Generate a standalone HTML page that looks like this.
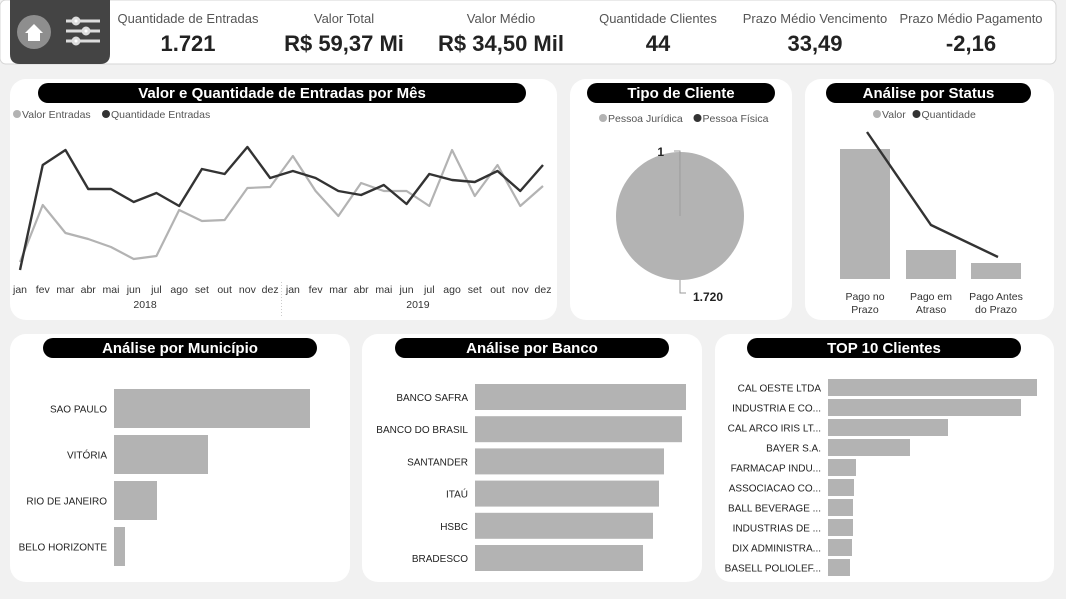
<!DOCTYPE html>
<html><head><meta charset="utf-8">
<style>
html,body{margin:0;padding:0;background:#f1f1f1;}
svg{display:block;font-family:"Liberation Sans","DejaVu Sans",sans-serif;}
</style></head>
<body>
<svg id="s" width="1066" height="599" viewBox="0 0 1066 599" xmlns="http://www.w3.org/2000/svg">
<rect width="1066" height="599" fill="#f1f1f1"/>
<g>
<rect x="0" y="0" width="1056" height="64" rx="6" fill="#fff" stroke="#d6d6d6"/>
<path d="M10 0 H110 V54 Q110 64 100 64 H20 Q10 64 10 54 Z" fill="#444"/>
<g><circle cx="34" cy="32" r="17" fill="#8e8e8e"/><path d="M25 33 L34 24 L43 33 H40 V41 H28 V33 Z" fill="#fff"/></g>
<g stroke="#ddd" stroke-width="3"><line x1="66" y1="21" x2="100" y2="21"/><line x1="66" y1="31" x2="100" y2="31"/><line x1="66" y1="41" x2="100" y2="41"/><circle cx="76" cy="21" r="3" fill="#fff"/><circle cx="86" cy="31" r="3" fill="#fff"/><circle cx="76" cy="41" r="3" fill="#fff"/></g>
<g font-size="13" fill="#555" text-anchor="middle">
<text x="188" y="23">Quantidade de Entradas</text>
<text x="344" y="23">Valor Total</text>
<text x="501" y="23">Valor Médio</text>
<text x="658" y="23">Quantidade Clientes</text>
<text x="815" y="23">Prazo Médio Vencimento</text>
<text x="971" y="23">Prazo Médio Pagamento</text>
</g>
<g font-size="22" font-weight="bold" fill="#222" text-anchor="middle">
<text x="188" y="51">1.721</text>
<text x="344" y="51">R$ 59,37 Mi</text>
<text x="501" y="51">R$ 34,50 Mil</text>
<text x="658" y="51">44</text>
<text x="815" y="51">33,49</text>
<text x="971" y="51">-2,16</text>
</g>
</g>
<g id="panels"></g>
<g id="charts"></g>
</svg>
<script>
// ---- data ----
const months = ["jan","fev","mar","abr","mai","jun","jul","ago","set","out","nov","dez","jan","fev","mar","abr","mai","jun","jul","ago","set","out","nov","dez"];
const years = ["2018","2019"];
const qtdEntradas = [30,135,150,111,111,98,107,94,131,126,153,122,129,122,109,105,115,96,126,120,118,129,109,135];
const valorEntradas = [38,95,67,61,53,41,44,90,79,80,112,113,144,109,84,117,109,109,94,150,104,135,94,114];
const tipoLabels = ["Pessoa Jurídica","Pessoa Física"];
const tipoValues = [1720,1];
const statusCats = ["Pago no Prazo","Pago em Atraso","Pago Antes do Prazo"];
const statusValor = [130,29,16];
const statusQtd = [147,54,22];
const munCats = ["SAO PAULO","VITÓRIA","RIO DE JANEIRO","BELO HORIZONTE"];
const munValues = [196,94,43,11];
const bancoCats = ["BANCO SAFRA","BANCO DO BRASIL","SANTANDER","ITAÚ","HSBC","BRADESCO"];
const bancoValues = [211,207,189,184,178,168];
const topCats = ["CAL OESTE LTDA","INDUSTRIA E CO...","CAL ARCO IRIS LT...","BAYER S.A.","FARMACAP INDU...","ASSOCIACAO CO...","BALL BEVERAGE ...","INDUSTRIAS DE ...","DIX ADMINISTRA...","BASELL POLIOLEF..."];
const topValues = [209,193,120,82,28,26,25,25,24,22];

const NS="http://www.w3.org/2000/svg";
function mk(tag,attrs,parent,text){const e=document.createElementNS(NS,tag);for(const k in attrs)e.setAttribute(k,attrs[k]);if(text!==undefined)e.textContent=text;parent.appendChild(e);return e;}
const P=document.getElementById('panels'), C=document.getElementById('charts');
const GRAY="#b3b3b3", DARK="#333";

function panel(x,y,w,h,title,tx,tw,name){
  const g=mk('g',{},P);
  
  
  mk('rect',{x:x,y:y,width:w,height:h,rx:16,fill:"#fff"},g);
  mk('rect',{x:tx,y:y+4,width:tw,height:20,rx:10,fill:"#000"},g);
  const t=mk('text',{x:tx+tw/2,y:y+19,"text-anchor":"middle","font-size":15,"font-weight":"bold",fill:"#fff"},g,title);
  
  
}
panel(10,79,547,241,"Valor e Quantidade de Entradas por Mês",38,488,"line-panel");
panel(570,79,222,241,"Tipo de Cliente",587,188,"pie-panel");
panel(805,79,249,241,"Análise por Status",826,205,"status-panel");
panel(10,334,340,248,"Análise por Município",43,274,"municipio-panel");
panel(362,334,340,248,"Análise por Banco",395,274,"banco-panel");
panel(715,334,339,248,"TOP 10 Clientes",747,274,"top10-panel");

function legend(x,y,items,name){
  const g=mk('g',{},C);
  
  
  let cx=x;
  items.forEach(it=>{
    mk('circle',{cx:cx+4,cy:y-4,r:4,fill:it[1]},g);
    mk('text',{x:cx+9,y:y,"font-size":10.5,fill:"#555"},g,it[0]);
    cx+=9+it[0].length*5.5+3;
  });
}

// ---- line chart ----
(function(){
  const x0=20,x1=543,yTop=147,yBot=270;
  const xs=i=>x0+i*(x1-x0)/(months.length-1);
  const ys=v=>yBot-(v-30)*(yBot-yTop)/(153-30);
  legend(13,118,[["Valor Entradas",GRAY],["Quantidade Entradas",DARK]],"line-legend");
  const g=mk('g',{},C);
  
  
  const l1=mk('polyline',{points:valorEntradas.map((v,i)=>xs(i)+","+ys(v)).join(" "),fill:"none",stroke:GRAY,"stroke-width":2.2,"stroke-linejoin":"round"},g);
  
  
  const l2=mk('polyline',{points:qtdEntradas.map((v,i)=>xs(i)+","+ys(v)).join(" "),fill:"none",stroke:DARK,"stroke-width":2.4,"stroke-linejoin":"round"},g);
  
  
  months.forEach((m,i)=>{
    const t=mk('text',{x:xs(i),y:293,"text-anchor":"middle","font-size":10.5,fill:"#333"},g,m);
    
    
  });
  years.forEach((y,k)=>{
    const cx=(xs(k*12)+xs(k*12+11))/2;
    const t=mk('text',{x:cx,y:308,"text-anchor":"middle","font-size":10.5,fill:"#333"},g,y);
    
    
  });
  mk('line',{x1:(xs(11)+xs(12))/2,y1:282,x2:(xs(11)+xs(12))/2,y2:316,stroke:"#ccc","stroke-dasharray":"1,2"},g);
})();

// ---- pie ----
(function(){
  legend(599,122,[["Pessoa Jurídica",GRAY],["Pessoa Física",DARK]],"pie-legend");
  const cx=680,cy=216,r=64,tot=tipoValues.reduce((a,b)=>a+b,0);
  const g=mk('g',{},C);
  
  
  let a=0;const cols=[GRAY,DARK];
  tipoValues.forEach((v,i)=>{
    const a2=a+v/tot*2*Math.PI;
    const p=(ang)=>[cx+r*Math.sin(ang),cy-r*Math.cos(ang)];
    const [x1,y1]=p(a),[x2,y2]=p(a2);
    let s;
    if(v/tot>0.9999) s=mk('circle',{cx:cx,cy:cy,r:r,fill:cols[i]},g);
    else s=mk('path',{d:`M${cx},${cy} L${x1},${y1} A${r},${r} 0 ${a2-a>Math.PI?1:0} 1 ${x2},${y2} Z`,fill:cols[i]},g);
    
    
    a=a2;
  });
  mk('line',{x1:cx,y1:cy,x2:cx,y2:152,stroke:"#999","stroke-width":0.8},g);
  mk('polyline',{points:`${cx},154 ${cx},151 ${cx-6},151`,fill:"none",stroke:"#999"},g);
  const t1=mk('text',{x:cx-16,y:156,"font-size":12,"font-weight":"bold",fill:"#222","text-anchor":"end"},g,tipoValues[1].toLocaleString('pt-BR'));
  
  
  mk('polyline',{points:`${cx},280 ${cx},293 ${cx+6},293`,fill:"none",stroke:"#999"},g);
  const t2=mk('text',{x:cx+13,y:301,"font-size":12,"font-weight":"bold",fill:"#222"},g,tipoValues[0].toLocaleString('pt-BR'));
  
  
})();

// ---- status combo ----
(function(){
  legend(873,118,[["Valor",GRAY],["Quantidade",DARK]],"status-legend");
  const base=279,bw=50,xc=[865,931,996];
  const yv=v=>base-v; const yq=v=>base-v;
  const g=mk('g',{},C);
  
  
  statusCats.forEach((c,i)=>{
    const b=mk('rect',{x:xc[i]-bw/2,y:yv(statusValor[i]),width:bw,height:statusValor[i],fill:GRAY},g);
    
    
    const words=c.split(" ");const l1=words.slice(0,2).join(" "),l2=words.slice(2).join(" ");
    const t=mk('text',{x:xc[i],y:300,"text-anchor":"middle","font-size":10.5,fill:"#333"},g);
    
    
    mk('tspan',{x:xc[i],dy:0},t,l1);mk('tspan',{x:xc[i],dy:13},t,l2);
  });
  const l=mk('polyline',{points:statusQtd.map((v,i)=>(xc[i]+(i==0?2:i==2?2:0))+","+yq(v)).join(" "),fill:"none",stroke:DARK,"stroke-width":2.4},g);
  
  
})();

// ---- horizontal bars ----
function hbars(cats,vals,x0,yTop,step,bh,labelX,fs,name){
  const g=mk('g',{},C);
  
  
  cats.forEach((c,i)=>{
    const y=yTop+i*step;
    const b=mk('rect',{x:x0,y:y,width:vals[i],height:bh,fill:GRAY},g);
    
    
    const t=mk('text',{x:labelX,y:y+bh/2+4,"text-anchor":"end","font-size":fs,fill:"#222"},g,c);
    
    
  });
}
hbars(munCats,munValues,114,389,46,39,107,10,"municipio");
hbars(bancoCats,bancoValues,475,384,32.2,26,468,10,"banco");
hbars(topCats,topValues,828,379,20,17,821,10,"top10");
</script>
</body></html>
